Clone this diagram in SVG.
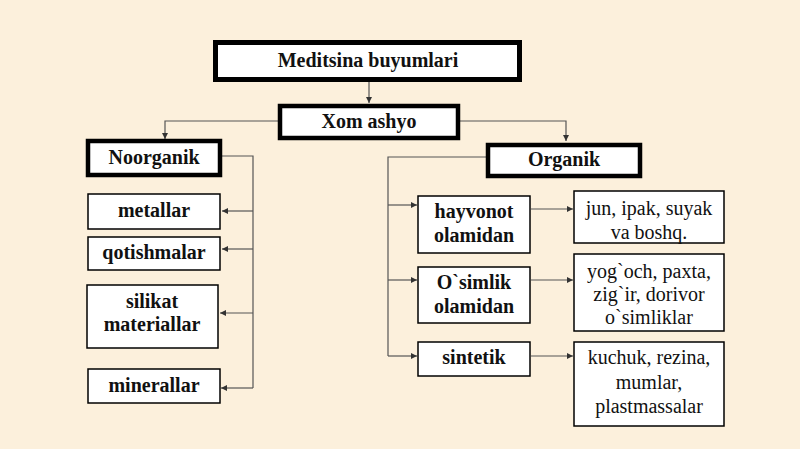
<svg xmlns="http://www.w3.org/2000/svg" width="800" height="449" viewBox="0 0 800 449">
<defs>
<marker id="ah" viewBox="0 0 6 6" refX="6" refY="3" markerWidth="6" markerHeight="6" markerUnits="userSpaceOnUse" orient="auto">
<path d="M0,0 L6,3 L0,6 Z" fill="#333"/>
</marker>
<style>
.bg{fill:#FCF0DC}
.thick{fill:#fff;stroke:#000;stroke-width:4.5}
.thin{fill:#fff;stroke:#000;stroke-width:1.5}
.b{font-family:"Liberation Serif","Times New Roman",serif;font-weight:bold;font-size:20px;fill:#111;text-anchor:middle}
.r{font-family:"Liberation Serif","Times New Roman",serif;font-size:20px;fill:#111;text-anchor:middle}
.c{fill:none;stroke:#555;stroke-width:1.2}
.a{marker-end:url(#ah)}
</style>
</defs>
<rect class="bg" x="0" y="0" width="800" height="449"/>
<g id="connectors">
<path class="c a" d="M369,82 V103"/>
<path class="c a" d="M278,121 H165 V139"/>
<path class="c a" d="M460,121 H566 V141"/>
<path class="c" d="M222,156 H253 V388"/>
<path class="c a" d="M253,211 H222"/>
<path class="c a" d="M253,249 H222"/>
<path class="c a" d="M253,313 H220"/>
<path class="c a" d="M253,388 H221"/>
<path class="c" d="M486,157 H388 V356"/>
<path class="c a" d="M388,205 H417"/>
<path class="c a" d="M388,280 H417"/>
<path class="c a" d="M388,356 H417"/>
<path class="c a" d="M531,209 H573"/>
<path class="c a" d="M531,280 H573"/>
<path class="c a" d="M531,356 H573"/>
</g>
<g id="meditsina">
<rect class="thick" x="215.5" y="42.5" width="304" height="37" style="stroke-width:5"/>
<text class="b" x="368" y="67">Meditsina buyumlari</text>
</g>
<g id="xom">
<rect class="thick" x="280" y="106" width="178" height="32"/>
<text class="b" x="369" y="128">Xom ashyo</text>
</g>
<g id="noorganik">
<rect class="thick" x="88" y="141" width="132" height="34"/>
<text class="b" x="154" y="164">Noorganik</text>
</g>
<g id="organik">
<rect class="thick" x="488" y="145" width="152" height="31"/>
<text class="b" x="564" y="166">Organik</text>
</g>
<g id="metallar">
<rect class="thin" x="88" y="194" width="132" height="35"/>
<text class="b" x="154" y="217">metallar</text>
</g>
<g id="qotishmalar">
<rect class="thin" x="88" y="237" width="132" height="33"/>
<text class="b" x="154" y="259">qotishmalar</text>
</g>
<g id="silikat">
<rect class="thin" x="87" y="285" width="131" height="63"/>
<text class="b" x="152" y="308">silikat</text>
<text class="b" x="152" y="331">materiallar</text>
</g>
<g id="minerallar">
<rect class="thin" x="88" y="369" width="132" height="34"/>
<text class="b" x="154" y="392">minerallar</text>
</g>
<g id="hayvonot">
<rect class="thin" x="418" y="196" width="112" height="57"/>
<text class="b" x="474" y="218">hayvonot</text>
<text class="b" x="474" y="242">olamidan</text>
</g>
<g id="osimlik">
<rect class="thin" x="418" y="267" width="112" height="56"/>
<text class="b" x="474" y="289">O`simlik</text>
<text class="b" x="474" y="313">olamidan</text>
</g>
<g id="sintetik">
<rect class="thin" x="418" y="342" width="112" height="34"/>
<text class="b" x="474" y="364">sintetik</text>
</g>
<g id="jun">
<rect class="thin" x="574" y="191" width="150" height="52"/>
<text class="r" x="649" y="215">jun, ipak, suyak</text>
<text class="r" x="649" y="239">va boshq.</text>
</g>
<g id="yogoch">
<rect class="thin" x="574" y="254" width="150" height="77"/>
<text class="r" x="649" y="278">yog`och, paxta,</text>
<text class="r" x="649" y="301">zig`ir, dorivor</text>
<text class="r" x="649" y="324">o`simliklar</text>
</g>
<g id="kuchuk">
<rect class="thin" x="574" y="342" width="150" height="84"/>
<text class="r" x="649" y="364">kuchuk, rezina,</text>
<text class="r" x="649" y="389">mumlar,</text>
<text class="r" x="649" y="413">plastmassalar</text>
</g>
</svg>
